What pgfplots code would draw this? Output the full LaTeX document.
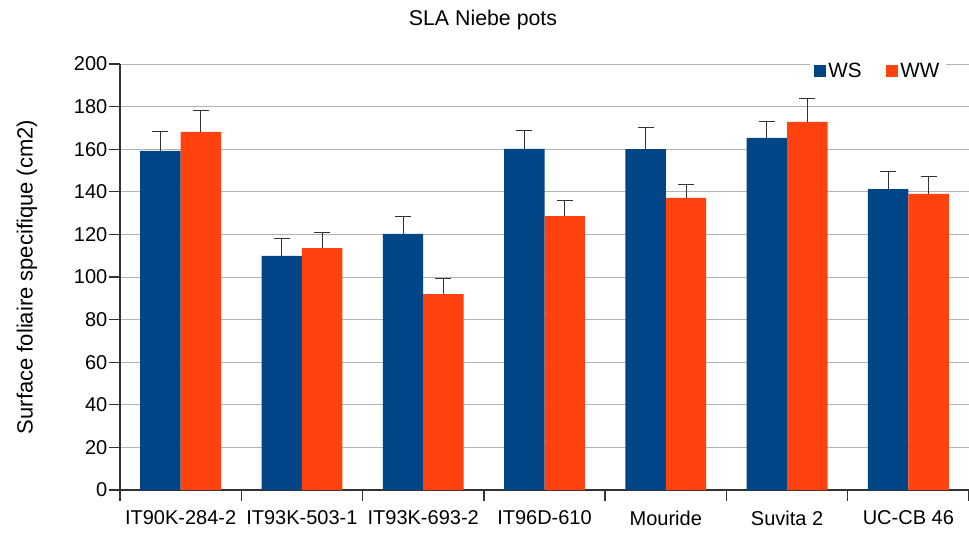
\documentclass[border=0pt]{standalone}
\usepackage{fontspec}
\setmainfont{Liberation Sans}
\usepackage{pgfplots}
\pgfplotsset{compat=1.18}
\definecolor{wsblue}{HTML}{004586}
\definecolor{wwred}{HTML}{FF420E}
\definecolor{gridgray}{HTML}{B3B3B3}

\begin{document}
\begin{tikzpicture}
\begin{axis}[
  name=main, at={(0,0)}, anchor=south west,
  scale only axis, width=636.75pt, height=319.5pt,
  xmin=-0.5, xmax=6.5, ymin=0, ymax=200,
  ybar=0pt, bar width=0.3333,
  axis x line*=bottom, axis y line*=left,
  axis line style={line width=1pt, black!80},
  tick align=outside, major tick length=8pt,
  tick style={line width=1pt, black!80},
  ytick={0,20,...,200}, ymajorgrids,
  grid style={gridgray, line width=0.75pt},
  xtick={-0.5,0.5,...,6.5}, xticklabels={},
  extra x ticks={0,1,...,6},
  extra x tick labels={IT90K-284-2,IT93K-503-1,IT93K-693-2,IT96D-610,Mouride,Suvita 2,UC-CB 46},
  extra x tick style={major tick length=0pt, grid=none},
  xticklabel style={yshift=-12pt},
  yticklabel style={xshift=2pt},
  ticklabel style={font=\fontsize{15}{18}\selectfont},
  /pgf/number format/assume math mode=true,
  ylabel={Surface foliaire specifique (cm2)},
  every axis y label/.style={at={(axis description cs:0,0.5)}, xshift=-69.75pt, rotate=90, anchor=center, font=\fontsize{16.5}{19}\selectfont},
  legend style={at={(rel axis cs:0.812,0.983)}, anchor=west, draw=none, fill=white,
    font=\fontsize{15.5}{18}\selectfont, legend columns=2,
    /tikz/every even column/.append style={column sep=16pt}},
  error bars/y dir=plus, error bars/y explicit,
  error bars/error bar style={line width=0.75pt, black!80},
  error bars/error mark options={rotate=90, mark size=6pt, line width=0.75pt, black!80},
]
\addplot[fill=wsblue, draw=none,
  legend image code/.code={\fill[wsblue] (0pt,-4.5pt) rectangle (9pt,4.5pt);}]
  coordinates {
  (0,159.2) +- (0,9.3)
  (1,109.9) +- (0,8.4)
  (2,120.2) +- (0,8.4)
  (3,160.1) +- (0,8.9)
  (4,160.0) +- (0,10.0)
  (5,165.3) +- (0,7.9)
  (6,141.3) +- (0,8.0)
  };
\addplot[fill=wwred, draw=none,
  legend image code/.code={\fill[wwred] (0pt,-4.5pt) rectangle (9pt,4.5pt);}]
  coordinates {
  (0,168.1) +- (0,10.3)
  (1,113.6) +- (0,7.5)
  (2,92.0) +- (0,7.5)
  (3,128.6) +- (0,7.1)
  (4,137.1) +- (0,6.1)
  (5,172.8) +- (0,10.8)
  (6,139.0) +- (0,8.0)
  };
\legend{WS,WW}
\end{axis}
\node[font=\fontsize{16}{19}\selectfont] at (272.25pt,352.5pt) {SLA Niebe pots};
\pgfresetboundingbox
\path[use as bounding box] (-90pt,-34.5pt) rectangle (636.75pt,367.5pt);
\end{tikzpicture}
\end{document}
